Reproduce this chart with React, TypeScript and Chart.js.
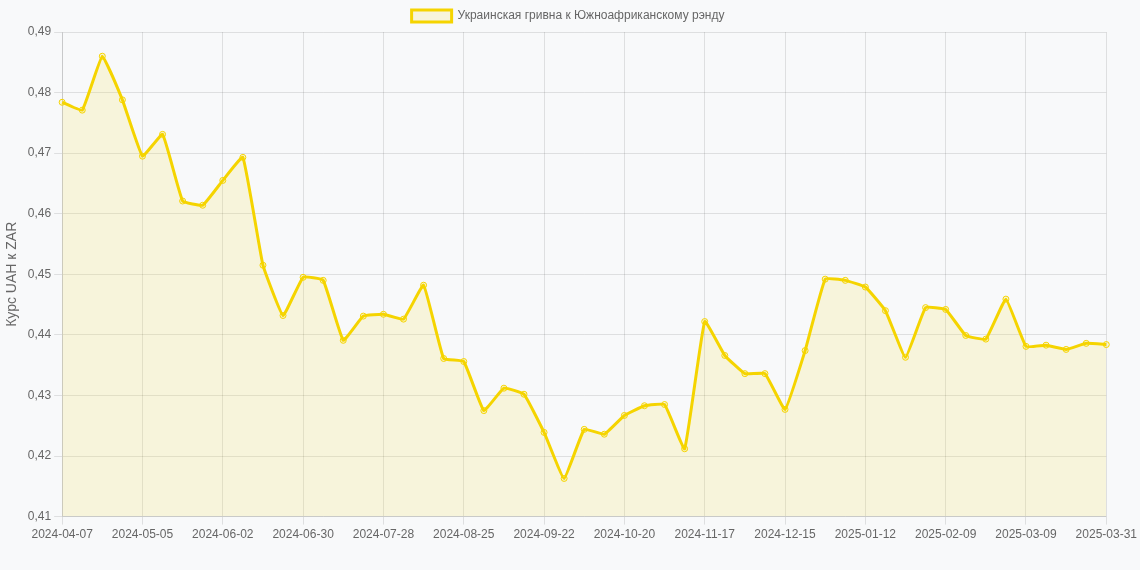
import React, { useEffect, useRef } from "react";
import { Chart, registerables } from "chart.js";

Chart.register(...registerables);

const labels: string[] = [
  "2024-04-07", "2024-04-14", "2024-04-21", "2024-04-28",
  "2024-05-05", "2024-05-12", "2024-05-19", "2024-05-26",
  "2024-06-02", "2024-06-09", "2024-06-16", "2024-06-23",
  "2024-06-30", "2024-07-07", "2024-07-14", "2024-07-21",
  "2024-07-28", "2024-08-04", "2024-08-11", "2024-08-18",
  "2024-08-25", "2024-09-01", "2024-09-08", "2024-09-15",
  "2024-09-22", "2024-09-29", "2024-10-06", "2024-10-13",
  "2024-10-20", "2024-10-27", "2024-11-03", "2024-11-10",
  "2024-11-17", "2024-11-24", "2024-12-01", "2024-12-08",
  "2024-12-15", "2024-12-22", "2024-12-29", "2025-01-05",
  "2025-01-12", "2025-01-19", "2025-01-26", "2025-02-02",
  "2025-02-09", "2025-02-16", "2025-02-23", "2025-03-02",
  "2025-03-09", "2025-03-16", "2025-03-23", "2025-03-30",
  "2025-03-31",
];

const uahZar: number[] = [
  0.4784, 0.4771, 0.4860, 0.4788,
  0.4695, 0.4731, 0.4621, 0.4614,
  0.4655, 0.4693, 0.4515, 0.4432,
  0.4495, 0.4490, 0.4391, 0.4431,
  0.4434, 0.4426, 0.4482, 0.4361,
  0.4356, 0.4275, 0.4312, 0.4302,
  0.4239, 0.4163, 0.4244, 0.4236,
  0.4267, 0.4283, 0.4285, 0.4212,
  0.4422, 0.4366, 0.4336, 0.4336,
  0.4277, 0.4374, 0.4492, 0.4490,
  0.4479, 0.4440, 0.4363, 0.4445,
  0.4442, 0.4399, 0.4393, 0.4459,
  0.4381, 0.4383, 0.4376, 0.4386,
  0.4384,
];

const seriesLabel = "Украинская гривна к Южноафриканскому рэнду";
const yTitle = "Курс UAH к ZAR";

export default function App() {
  const ref = useRef<HTMLCanvasElement | null>(null);

  useEffect(() => {
    document.body.style.margin = "0";
    document.body.style.background = "#f8f9fa";
    if (!ref.current) return;
    Chart.defaults.font.family = "'Liberation Sans', Arial, Helvetica, sans-serif";
    Chart.defaults.color = "#666";
    const chart = new Chart(ref.current, {
      type: "line",
      data: {
        labels,
        datasets: [
          {
            label: seriesLabel,
            data: uahZar,
            borderColor: "rgb(245, 212, 0)",
            backgroundColor: "rgba(245, 212, 0, 0.12)",
            borderWidth: 3,
            fill: true,
            tension: 0.1,
            pointRadius: 3,
            pointBorderWidth: 1,
            pointBackgroundColor: "rgba(245, 212, 0, 0.12)",
            pointBorderColor: "rgb(245, 212, 0)",
          },
        ],
      },
      options: {
        animation: false,
        responsive: false,
        locale: "ru-RU",
        layout: { padding: { left: 0, right: 4, top: 0, bottom: 25 } },
        plugins: {
          legend: {
            display: true,
            position: "top",
            labels: { font: { size: 12 }, color: "#666" },
          },
          tooltip: { enabled: false },
        },
        scales: {
          x: {
            ticks: { maxRotation: 0, autoSkip: true, font: { size: 12 }, color: "#666" },
            grid: { color: "rgba(0,0,0,0.1)" },
          },
          y: {
            min: 0.41,
            max: 0.49,
            ticks: { stepSize: 0.01, font: { size: 12 }, color: "#666" },
            grid: { color: "rgba(0,0,0,0.1)" },
            title: { display: true, text: yTitle, font: { size: 14 }, color: "#666" },
          },
        },
      },
    });
    return () => chart.destroy();
  }, []);

  return (
    <div style={{ width: 1140, height: 570, background: "#f8f9fa" }}>
      <canvas ref={ref} width={1140} height={570} style={{ display: "block" }} />
    </div>
  );
}
